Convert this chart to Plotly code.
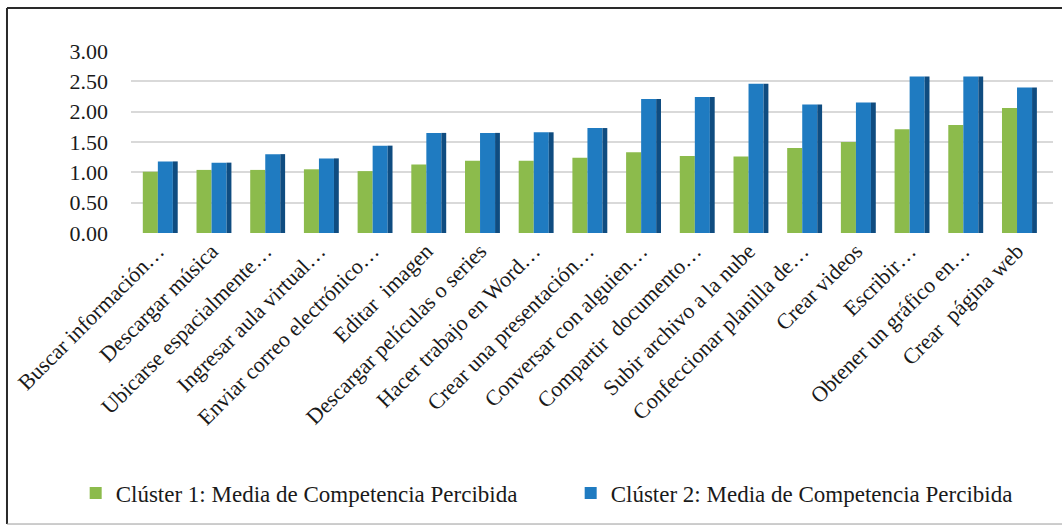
import plotly.graph_objects as go

# categories (x axis labels, as printed in the reference)
actividades = [
    'Buscar información…', 'Descargar música', 'Ubicarse espacialmente…',
    'Ingresar aula virtual…', 'Enviar correo electrónico…', 'Editar\u00a0 imagen',
    'Descargar películas o series', 'Hacer trabajo en Word…', 'Crear una presentación…',
    'Conversar con alguien…', 'Compartir\u00a0 documento…', 'Subir archivo a la nube',
    'Confeccionar planilla de…', 'Crear videos', 'Escribir…',
    'Obtener un gráfico en…', 'Crear\u00a0 página web',
]

# mean perceived competence per cluster
cluster_1 = [1.01, 1.04, 1.04, 1.05, 1.02, 1.13, 1.19, 1.19, 1.24, 1.33,
             1.27, 1.26, 1.40, 1.50, 1.71, 1.78, 2.06]
cluster_2 = [1.18, 1.16, 1.30, 1.23, 1.44, 1.65, 1.65, 1.66, 1.73, 2.21,
             2.24, 2.46, 2.12, 2.15, 2.58, 2.58, 2.40]

y_ticks = [0, 0.5, 1, 1.5, 2, 2.5, 3]
y_tick_text = ['0.00', '0.50', '1.00', '1.50', '2.00', '2.50', '3.00']

nombre_1 = 'Clúster 1: Media de Competencia Percibida'
nombre_2 = 'Clúster 2: Media de Competencia Percibida'

verde = '#8cbb4c'
azul = '#1f7bc1'
azul_oscuro = '#0f4c80'

font_serif = 'Liberation Serif, Times New Roman, serif'

fig = go.Figure()

# front faces
fig.add_trace(go.Bar(x=actividades, y=cluster_1, name=nombre_1,
                     marker=dict(color=verde, line=dict(width=0)),
                     offset=-0.28, width=0.28))
fig.add_trace(go.Bar(x=actividades, y=cluster_2, name=nombre_2,
                     marker=dict(color=azul, line=dict(width=0)),
                     offset=0.0, width=0.28))
# dark side of the blue column to mimic the 3D look
fig.add_trace(go.Bar(x=actividades, y=cluster_2, showlegend=False, hoverinfo='skip',
                     marker=dict(color=azul_oscuro, line=dict(width=0)),
                     offset=0.28, width=0.09))

# frame around the chart (top, left and bottom edges are visible in the picture)
marco = dict(type='line', xref='paper', yref='paper', layer='below')
fig.update_layout(
    barmode='overlay',
    width=1062, height=526,
    margin=dict(l=131, r=9, t=51, b=293, autoexpand=False),
    paper_bgcolor='white', plot_bgcolor='white',
    font=dict(family=font_serif, size=22, color='#1a1a1a'),
    showlegend=True,
    legend=dict(orientation='h', x=-0.06, xanchor='left', y=-1.4286, yanchor='middle',
                font=dict(family=font_serif, size=23, color='#1a1a1a'),
                entrywidth=450, entrywidthmode='pixels', traceorder='normal'),
    xaxis=dict(tickangle=-45, showgrid=False, showline=False, ticks='',
               range=[-0.5, 16.67], automargin=False,
               tickfont=dict(family=font_serif, size=22)),
    yaxis=dict(range=[0, 3], tickvals=y_ticks, ticktext=y_tick_text,
               showgrid=True, gridcolor='#d9d9d9', gridwidth=2, zeroline=False,
               showline=False, ticks='', ticklabelstandoff=22, automargin=False,
               tickfont=dict(family=font_serif, size=22)),
    shapes=[
        dict(marco, x0=-0.1345, x1=1.01, y0=1.236, y1=1.236,
             line=dict(color='#2a2a2a', width=2)),
        dict(marco, x0=-0.1345, x1=-0.1345, y0=-1.599, y1=1.236,
             line=dict(color='#2a2a2a', width=2)),
        dict(marco, x0=-0.1345, x1=1.01, y0=-1.599, y1=-1.599,
             line=dict(color='#9a9a9a', width=1)),
    ],
)

# the page's default body margin would shift the figure by 8 px
fig.write_html('out.html', config={'displayModeBar': False},
               post_script="document.body.style.margin='0';")
